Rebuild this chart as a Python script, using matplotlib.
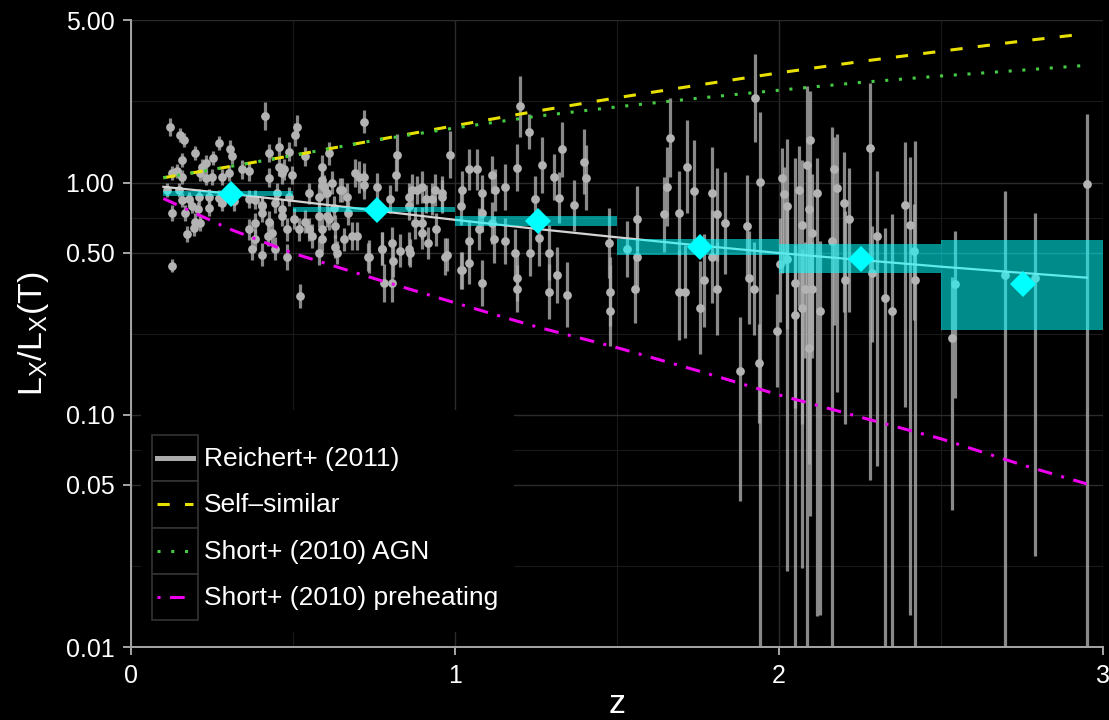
import numpy as np
import matplotlib
matplotlib.use("Agg")
import matplotlib.pyplot as plt
from matplotlib.patches import Rectangle
from matplotlib.lines import Line2D
from matplotlib.ticker import NullFormatter

plt.rcParams['font.family'] = ['Liberation Sans', 'DejaVu Sans']
plt.rcParams['mathtext.default'] = 'regular'

# --- Reichert+ (2011) clusters, low z (symmetric errors, dex) ---
z_low = [0.121, 0.152, 0.163, 0.198, 0.271, 0.307, 0.254, 0.415, 0.507, 0.512, 0.456, 0.425, 0.487, 0.538, 0.590, 0.610,
         0.127, 0.142, 0.157, 0.214, 0.230, 0.281, 0.302, 0.343, 0.363, 0.425, 0.471, 0.497, 0.590,
         0.111, 0.147, 0.178, 0.209, 0.271, 0.317, 0.363, 0.404, 0.450, 0.487, 0.548, 0.579, 0.605,
         0.127, 0.168, 0.198, 0.240, 0.404, 0.425, 0.466, 0.502, 0.538, 0.579, 0.610,
         0.173, 0.193, 0.214, 0.363, 0.384, 0.435, 0.482, 0.518, 0.559, 0.590,
         0.373, 0.404, 0.481, 0.579, 0.127, 0.523]
ratio_low = [1.74, 1.61, 1.53, 1.34, 1.48, 1.39, 1.28, 1.93, 1.61, 1.74, 1.43, 1.34, 1.36, 1.30, 1.17, 1.34,
             1.10, 1.12, 1.06, 1.10, 1.05, 1.06, 1.10, 1.14, 1.12, 1.05, 1.14, 1.08, 1.03,
             0.93, 0.93, 0.85, 0.87, 0.86, 0.83, 0.85, 0.80, 0.90, 0.87, 0.90, 0.87, 0.90,
             0.74, 0.74, 0.68, 0.78, 0.74, 0.68, 0.72, 0.70, 0.68, 0.72, 0.70,
             0.60, 0.64, 0.67, 0.63, 0.67, 0.61, 0.63, 0.63, 0.59, 0.63,
             0.52, 0.49, 0.48, 0.50, 0.44, 0.325]
err_low = [0.04, 0.03, 0.03, 0.03, 0.03, 0.04, 0.03, 0.06, 0.05, 0.05, 0.04, 0.04, 0.04, 0.04, 0.05, 0.05,
           0.03, 0.03, 0.03, 0.035, 0.03, 0.035, 0.035, 0.04, 0.04, 0.04, 0.045, 0.04, 0.05,
           0.03, 0.03, 0.03, 0.035, 0.035, 0.04, 0.04, 0.04, 0.045, 0.04, 0.045, 0.05, 0.05,
           0.035, 0.035, 0.035, 0.035, 0.04, 0.045, 0.045, 0.045, 0.05, 0.05, 0.05,
           0.035, 0.035, 0.035, 0.045, 0.045, 0.05, 0.05, 0.05, 0.05, 0.05,
           0.05, 0.05, 0.055, 0.055, 0.03, 0.05]

# crowded clusters below z ~ 1
z_dense = [0.157, 0.188, 0.207, 0.240, 0.280, 0.383, 0.404, 0.445, 0.466, 0.383, 0.424, 0.445,
           0.157, 0.230, 0.312, 0.456, 0.466, 0.219, 0.250,
           0.590, 0.651, 0.690, 0.720, 0.867, 0.898, 0.929, 0.960,
           0.548, 0.590, 0.630, 0.682, 0.733, 0.775, 0.857, 0.877, 0.940, 0.970, 1.020]
ratio_dense = [0.845, 0.79, 0.77, 0.87, 0.82, 0.845, 0.79, 0.82, 0.77, 0.57, 0.59, 0.52,
               1.25, 1.21, 1.30, 1.17, 1.10, 1.17, 1.06,
               0.98, 0.93, 1.10, 1.06, 0.93, 0.96, 0.85, 0.905,
               0.63, 0.57, 0.53, 0.59, 0.48, 0.52, 0.52, 0.67, 0.63, 0.48, 0.42]
err_dense = [0.03, 0.03, 0.03, 0.035, 0.035, 0.04, 0.04, 0.045, 0.045, 0.045, 0.045, 0.05,
             0.03, 0.035, 0.035, 0.04, 0.045, 0.035, 0.035,
             0.05, 0.05, 0.06, 0.06, 0.07, 0.07, 0.07, 0.07,
             0.05, 0.05, 0.05, 0.06, 0.06, 0.07, 0.07, 0.07, 0.07, 0.08, 0.08]

# --- intermediate z ---
z_mid = [0.718, 0.821, 0.818, 0.986, 1.042, 1.068, 1.114,
         0.595, 0.620, 0.646, 0.667, 0.703, 0.718, 0.759, 0.800, 0.857, 0.883, 0.909, 0.939, 0.960, 1.022, 1.083, 1.124,
         0.605, 0.631, 0.657, 0.698, 0.636, 0.734, 0.775, 0.806, 0.810, 0.831, 0.862, 0.781, 0.806,
         0.898, 0.918, 0.898, 0.857, 0.975, 1.022, 1.042, 1.042, 1.083, 1.073, 1.114, 1.017, 1.083, 0.625, 0.671]
ratio_mid = [1.83, 1.32, 1.08, 1.32, 1.14, 1.14, 1.08,
             0.96, 1.00, 0.93, 0.87, 1.06, 0.98, 0.96, 0.85, 0.87, 0.93, 0.85, 0.93, 0.87, 0.93, 0.90, 0.93,
             0.72, 0.65, 0.57, 0.59, 0.50, 0.48, 0.52, 0.55, 0.46, 0.51, 0.50, 0.37, 0.37,
             0.61, 0.55, 0.67, 0.79, 0.49, 0.42, 0.56, 0.45, 0.37, 0.63, 0.67, 0.79, 0.74, 0.78, 0.74]
err_mid = [0.05, 0.09, 0.07, 0.10, 0.09, 0.09, 0.08,
           0.05, 0.05, 0.05, 0.06, 0.07, 0.06, 0.06, 0.06, 0.06, 0.06, 0.06, 0.07, 0.07, 0.08, 0.08, 0.09,
           0.05, 0.05, 0.05, 0.06, 0.05, 0.07, 0.07, 0.07, 0.07, 0.07, 0.06, 0.08, 0.08,
           0.07, 0.07, 0.07, 0.06, 0.07, 0.08, 0.09, 0.09, 0.10, 0.09, 0.09, 0.08, 0.08, 0.05, 0.05]

# --- high z (asymmetric errors, dex; 3.0 = runs off the bottom) ---
z_high = [1.202, 1.227, 1.191, 1.269, 1.330, 1.397, 1.403, 1.305, 1.248, 1.320, 1.366, 1.155, 1.119, 1.155,
          1.186, 1.259, 1.289, 1.232, 1.315, 1.289, 1.346, 1.191, 1.191, 1.474, 1.479, 1.479, 1.562, 1.562,
          1.557, 1.531, 1.644, 1.654, 1.665, 1.690, 1.690, 1.710, 1.716, 1.737, 1.757, 1.767, 1.793, 1.793,
          1.810, 1.810, 1.834, 1.901, 1.906, 1.922, 1.927, 1.942, 1.881, 1.937, 1.994,
          2.009, 2.015, 2.025, 2.004, 2.025, 2.050, 2.050, 2.061, 2.071, 2.071, 2.087, 2.097, 2.092, 2.102,
          2.102, 2.081, 2.117, 2.127, 2.092, 2.164, 2.169, 2.179, 2.200, 2.205, 2.215, 2.282, 2.302, 2.287,
          2.328, 2.349, 2.390, 2.405, 2.421, 2.416, 2.544, 2.534, 2.698, 2.790, 2.950]
ratio_high = [2.13, 1.66, 1.16, 1.19, 1.39, 1.23, 1.05, 1.06, 0.85, 0.86, 0.80, 0.96, 0.57, 0.56,
              0.50, 0.58, 0.50, 0.50, 0.40, 0.34, 0.33, 0.39, 0.35, 0.55, 0.34, 0.28, 0.70, 0.48,
              0.35, 0.52, 0.73, 0.96, 1.56, 0.74, 0.34, 0.34, 1.17, 0.92, 0.29, 0.38, 0.90, 0.48,
              0.73, 0.35, 0.67, 0.65, 0.39, 0.35, 2.31, 1.01, 0.155, 0.168, 0.23,
              1.05, 0.89, 0.79, 0.445, 0.47, 0.37, 0.27, 0.93, 0.66, 0.29, 1.19, 1.53, 0.77, 0.61,
              0.35, 0.35, 0.90, 0.28, 0.195, 0.56, 1.14, 0.95, 0.82, 0.38, 0.70, 1.41, 0.59, 0.41,
              0.32, 0.28, 0.80, 0.66, 0.38, 0.51, 0.365, 0.215, 0.40, 0.39, 0.99]
dlo_high = [0.13, 0.075, 0.10, 0.12, 0.12, 0.14, 0.14, 0.10, 0.10, 0.11, 0.11, 0.10, 0.10, 0.10,
            0.10, 0.12, 0.12, 0.10, 0.12, 0.12, 0.14, 0.10, 0.10, 0.15, 0.15, 0.15, 0.14, 0.15,
            0.15, 0.12, 0.16, 0.17, 0.17, 0.18, 0.21, 0.20, 0.20, 0.22, 0.20, 0.20, 0.20, 0.20,
            0.20, 0.20, 0.22, 0.22, 0.20, 0.20, 0.19, 3.0, 0.56, 0.26, 0.24,
            0.41, 0.30, 1.57, 0.25, 0.30, 3.0, 0.40, 0.50, 1.48, 0.50, 3.0, 1.62, 0.40, 0.50,
            0.30, 0.30, 1.82, 1.31, 0.50, 3.0, 0.67, 0.88, 0.47, 0.62, 0.40, 1.43, 0.99, 0.30,
            3.0, 3.0, 0.87, 1.68, 3.0, 0.30, 0.49, 0.74, 3.0, 1.20, 3.0]
dhi_high = [0.13, 0.075, 0.10, 0.12, 0.12, 0.14, 0.14, 0.10, 0.10, 0.11, 0.11, 0.10, 0.10, 0.10,
            0.10, 0.12, 0.12, 0.10, 0.12, 0.12, 0.14, 0.10, 0.10, 0.15, 0.15, 0.20, 0.14, 0.15,
            0.15, 0.12, 0.16, 0.17, 0.17, 0.18, 0.18, 0.20, 0.20, 0.22, 0.20, 0.20, 0.20, 0.20,
            0.20, 0.20, 0.22, 0.22, 0.20, 0.20, 0.19, 0.30, 0.23, 0.165, 0.16,
            0.13, 0.12, 0.29, 0.20, 0.22, 0.54, 0.30, 0.19, 0.28, 0.25, 0.34, 0.21, 0.20, 0.25,
            0.20, 0.20, 0.15, 0.30, 0.20, 0.49, 0.14, 0.23, 0.22, 0.30, 0.22, 0.28, 0.28, 0.20,
            0.30, 0.42, 0.27, 0.29, 0.60, 0.20, 0.23, 0.26, 0.36, 0.28, 0.30]

# --- binned means ---
bin_lo = [0.1, 0.5, 1.0, 1.5, 2.0, 2.5]
bin_hi = [0.5, 1.0, 1.5, 2.0, 2.5, 3.0]
band_lo = [0.880, 0.746, 0.654, 0.488, 0.410, 0.232]
band_hi = [0.918, 0.787, 0.717, 0.575, 0.546, 0.564]
bin_z = [0.31, 0.76, 1.256, 1.755, 2.254, 2.753]
bin_mean = [0.894, 0.760, 0.682, 0.530, 0.471, 0.365]

# --- model curves ---
curve_z = [0.1, 0.3, 0.5, 0.75, 1.0, 1.25, 1.5, 1.75, 2.0, 2.25, 2.5, 2.75, 2.95]
self_similar = [1.05, 1.17, 1.31, 1.52, 1.76, 2.03, 2.32, 2.63, 2.97, 3.32, 3.68, 4.07, 4.38]
short_agn = [1.05, 1.17, 1.31, 1.52, 1.72, 1.93, 2.12, 2.31, 2.50, 2.70, 2.88, 3.05, 3.20]
short_preheat = [0.855, 0.635, 0.497, 0.387, 0.304, 0.240, 0.195, 0.155, 0.122, 0.098, 0.079, 0.061, 0.0505]
fit_curve = [0.96, 0.898, 0.835, 0.760, 0.692, 0.633, 0.582, 0.537, 0.498, 0.465, 0.435, 0.409, 0.390]

legend_labels = ["Reichert+ (2011)", "Self\u2013similar", "Short+ (2010) AGN", "Short+ (2010) preheating"]

GRAY = '#ababab'
YELLOW = '#e8e000'
GREEN = '#44cc44'
MAGENTA = '#ee00ee'
styles = [dict(color=GRAY, lw=3.6, ls='-'),
          dict(color=YELLOW, lw=2.2, ls=(0, (4, 5))),
          dict(color=GREEN, lw=2.2, ls=(0, (1, 3.5))),
          dict(color=MAGENTA, lw=2.2, ls=(0, (4.8, 3.1, 1, 3.1)))]

W, H = 1109, 720
fig = plt.figure(figsize=(W / 100, H / 100), dpi=100, facecolor='black')
ax = fig.add_axes([131 / W, 1 - 647.3 / H, 972 / W, 627 / H])
ax.set_facecolor('black')

# error bars + points
for z, r, lo_d, hi_d in [(z_low, ratio_low, err_low, err_low),
                         (z_dense, ratio_dense, err_dense, err_dense),
                         (z_mid, ratio_mid, err_mid, err_mid),
                         (z_high, ratio_high, dlo_high, dhi_high)]:
    r = np.array(r)
    lo = r - r / 10 ** np.array(lo_d)
    hi = r * 10 ** np.array(hi_d) - r
    ax.errorbar(z, r, yerr=[lo, hi], fmt='o', ms=6.3, mfc='#b3b3b3', mec='#b3b3b3', mew=0,
                ecolor=(0.68, 0.68, 0.68, 0.8), elinewidth=2.3, capsize=0, zorder=2)

ax.plot(curve_z, fit_curve, color='#d4d4d4', lw=1.6, zorder=3)
ax.plot(curve_z, self_similar, zorder=4, dash_capstyle='butt', **styles[1])
ax.plot(curve_z, short_agn, zorder=4, dash_capstyle='butt', **styles[2])
ax.plot(curve_z, short_preheat, zorder=4, dash_capstyle='butt', **styles[3])

widths = np.array(bin_hi) - np.array(bin_lo)
heights = np.array(band_hi) - np.array(band_lo)
ax.bar(bin_lo, heights, width=widths, bottom=band_lo, align='edge', color='cyan', alpha=0.55, lw=0, zorder=5)
ax.plot(bin_z, bin_mean, 'D', color='cyan', ms=13.5, mew=0, zorder=6)

# axes styling
ax.set_yscale('log')
ax.set_xlim(0, 3)
ax.set_ylim(0.01, 5)
ax.set_xticks([0, 1, 2, 3])
ax.set_xticks([0.5, 1.5, 2.5], minor=True)
ax.set_yticks([0.01, 0.05, 0.1, 0.5, 1, 5])
ax.set_yticklabels(['0.01', '0.05', '0.10', '0.50', '1.00', '5.00'])
ax.set_yticks([0.02236, 0.07071, 0.2236, 0.7071, 2.236], minor=True)
ax.yaxis.set_minor_formatter(NullFormatter())
ax.grid(which='major', color='#2b2b2b', lw=1.0)
ax.grid(which='minor', color='#1a1a1a', lw=0.8)
ax.set_axisbelow(True)
for s in ['top', 'right']:
    ax.spines[s].set_visible(False)
for s in ['left', 'bottom']:
    ax.spines[s].set_color('#a6a6a6')
    ax.spines[s].set_linewidth(1.4)
ax.tick_params(which='major', direction='out', length=6, width=1.4, color='#a6a6a6',
               labelcolor='white', labelsize=18, pad=6)
ax.tick_params(which='minor', length=0)

ax.set_xlabel('z', fontsize=24.5, color='white', va='center')
ax.xaxis.set_label_coords(0.5, -0.091)
ax.set_ylabel(r'$L_X/L_X(T)$', fontsize=24.5, color='white', va='center')
ax.yaxis.set_label_coords(-0.1, 0.5)

# legend, drawn in figure pixels
def fx(px):
    return px / W

def fy(py):
    return 1 - py / H

fig.add_artist(Rectangle((fx(141), fy(632)), fx(514) - fx(141), fy(410) - fy(632),
                         transform=fig.transFigure, facecolor='black', edgecolor='none', zorder=10))
row_h = 46.25
for i, (label, st) in enumerate(zip(legend_labels, styles)):
    top = 435 + i * row_h
    mid = top + row_h / 2
    st = dict(st)
    if i == 3:
        st['ls'] = (7.9, (4.8, 3.1, 1, 3.1))
    fig.add_artist(Rectangle((fx(152), fy(top + row_h)), fx(198) - fx(152), fy(top) - fy(top + row_h),
                             transform=fig.transFigure, facecolor='black', edgecolor='#333333',
                             lw=1.2, zorder=11))
    fig.add_artist(Line2D([fx(157), fx(193)], [fy(mid), fy(mid)], transform=fig.transFigure,
                          dash_capstyle='butt', zorder=12, **st))
    fig.text(fx(204), fy(mid + 1), label, color='white', fontsize=19, va='center', ha='left', zorder=12)

fig.savefig('out.png', dpi=100, facecolor='black')
